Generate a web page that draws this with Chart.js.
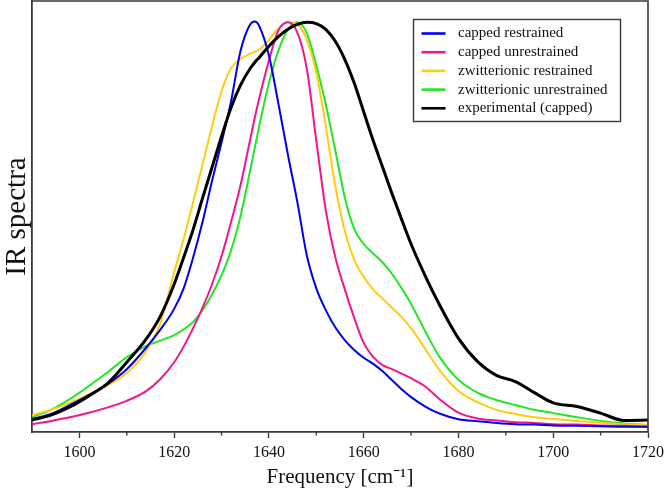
<!DOCTYPE html>
<html>
<head>
<meta charset="utf-8">
<script src="https://cdn.jsdelivr.net/npm/chart.js@4.4.1/dist/chart.umd.min.js"></script>
<style>
  html, body { margin: 0; padding: 0; background: #fff; }
  #wrap { width: 666px; height: 491px; position: relative; }
</style>
</head>
<body>
<div id="wrap"><canvas id="c" width="666" height="491"></canvas></div>
<script>
// ---- data ----
const freq = [1590,1594,1598,1602,1606,1610,1614,1617,1620,1622,1624,1626,1628,1630,1632,1634,1636,1637,1638,1640,1642,1644,1646,1648,1650,1652,1654,1656,1658,1660,1662,1664,1666,1668,1670,1673,1676,1680,1684,1688,1692,1696,1700,1705,1710,1715,1720];

const cappedRestrained = [0.032,0.044,0.066,0.090,0.117,0.153,0.204,0.248,0.300,0.350,0.425,0.512,0.612,0.705,0.805,0.928,0.992,1.000,0.988,0.917,0.800,0.676,0.560,0.430,0.350,0.297,0.255,0.224,0.200,0.181,0.166,0.148,0.126,0.104,0.085,0.062,0.045,0.031,0.026,0.022,0.019,0.018,0.016,0.015,0.014,0.013,0.013];

const cappedUnrestrained = [0.019,0.027,0.036,0.047,0.060,0.076,0.099,0.128,0.170,0.208,0.253,0.303,0.360,0.428,0.511,0.601,0.710,0.765,0.815,0.905,0.978,0.998,0.973,0.885,0.710,0.540,0.426,0.348,0.278,0.217,0.183,0.163,0.153,0.142,0.131,0.111,0.080,0.047,0.033,0.028,0.024,0.022,0.019,0.018,0.016,0.015,0.013];

const zwitterRestrained = [0.041,0.054,0.071,0.092,0.114,0.144,0.195,0.262,0.389,0.470,0.560,0.652,0.745,0.830,0.886,0.909,0.921,0.926,0.932,0.955,0.983,0.998,0.993,0.955,0.875,0.745,0.600,0.490,0.420,0.378,0.347,0.325,0.302,0.280,0.253,0.202,0.151,0.100,0.073,0.054,0.044,0.036,0.032,0.027,0.023,0.019,0.017];

const zwitterUnrestrained = [0.036,0.054,0.080,0.112,0.146,0.182,0.209,0.222,0.236,0.250,0.268,0.297,0.335,0.382,0.442,0.525,0.635,0.692,0.748,0.850,0.929,0.981,0.998,0.971,0.893,0.798,0.687,0.572,0.495,0.458,0.435,0.413,0.385,0.350,0.312,0.245,0.183,0.127,0.096,0.078,0.066,0.054,0.046,0.036,0.027,0.021,0.017];

const experimental = [0.029,0.041,0.061,0.088,0.119,0.170,0.225,0.280,0.360,0.425,0.493,0.570,0.645,0.720,0.790,0.845,0.885,0.900,0.913,0.940,0.963,0.981,0.993,0.998,0.995,0.981,0.952,0.908,0.850,0.780,0.710,0.645,0.580,0.518,0.458,0.380,0.310,0.228,0.172,0.138,0.123,0.096,0.071,0.062,0.046,0.028,0.029];

const seriesLabels = ['capped restrained','capped unrestrained','zwitterionic restrained','zwitterionic unrestrained','experimental (capped)'];
const majorTicks = [1600,1620,1640,1660,1680,1700,1720];
const minorTicks = [1610,1630,1650,1670,1690,1710];

// ---- build ----
const seriesValues = [cappedRestrained, cappedUnrestrained, zwitterRestrained, zwitterUnrestrained, experimental];
const colors = ['#0000f0','#f0168c','#ffcc10','#22e622','#000000'];
const widths = [2, 2, 2, 2, 3];
const FONT = "'Liberation Serif', 'Times New Roman', serif";
const AXIS = '#3a3a3a';

const datasets = seriesValues.map((vals, i) => ({
  label: seriesLabels[i],
  data: vals.map((v, k) => ({x: freq[k], y: v})),
  borderColor: colors[i],
  backgroundColor: colors[i],
  borderWidth: widths[i],
  pointRadius: 0,
  cubicInterpolationMode: 'monotone',
  fill: false,
  order: i === 4 ? 0 : 1
}));

const framePlugin = {
  id: 'frame',
  afterDraw(chart) {
    const {ctx, chartArea: a, scales} = chart;
    ctx.save();
    ctx.strokeStyle = AXIS;
    ctx.lineWidth = 1.6;
    ctx.beginPath();
    ctx.moveTo(a.left, a.top);
    ctx.lineTo(a.right, a.top);
    ctx.lineTo(a.right, a.bottom);
    ctx.stroke();
    ctx.lineWidth = 1.4;
    ctx.beginPath();
    minorTicks.forEach(v => {
      const x = scales.x.getPixelForValue(v);
      ctx.moveTo(x, a.bottom);
      ctx.lineTo(x, a.bottom + 3.5);
    });
    ctx.stroke();
    const bx = 413.5, by = 19.5, bw = 207, bh = 102;
    ctx.fillStyle = '#fff';
    ctx.fillRect(bx, by, bw, bh);
    ctx.strokeStyle = AXIS;
    ctx.lineWidth = 1.4;
    ctx.strokeRect(bx, by, bw, bh);
    ctx.font = '15px ' + FONT;
    ctx.textBaseline = 'middle';
    ctx.textAlign = 'left';
    chart.data.datasets.forEach((ds, i) => {
      const y = 33.5 + i * 18.7;
      ctx.strokeStyle = ds.borderColor;
      ctx.lineWidth = 2.6;
      ctx.beginPath();
      ctx.moveTo(421.5, y);
      ctx.lineTo(445.5, y);
      ctx.stroke();
      ctx.fillStyle = '#111';
      ctx.fillText(ds.label, 458, y);
    });
    ctx.restore();
  }
};

new Chart(document.getElementById('c'), {
  type: 'line',
  data: { datasets },
  options: {
    responsive: false,
    animation: false,
    events: [],
    layout: { padding: { top: 1, right: 18, bottom: 0, left: 0 } },
    plugins: { legend: { display: false }, tooltip: { enabled: false } },
    scales: {
      x: {
        type: 'linear',
        min: 1590,
        max: 1720,
        afterBuildTicks: s => { s.ticks = majorTicks.map(v => ({value: v})); },
        afterFit: s => { s.height = 59; s.paddingLeft = 0; s.paddingRight = 0; },
        ticks: { color: '#111', font: { family: FONT, size: 16 }, padding: 5, maxRotation: 0, autoSkip: false, callback: v => String(v) },
        grid: { display: true, drawOnChartArea: false, drawTicks: true, tickLength: 6, tickColor: AXIS, tickWidth: 1.4 },
        border: { display: true, color: AXIS, width: 1.8 },
        title: { display: true, text: 'Frequency [cm⁻¹]', color: '#111', font: { family: FONT, size: 21, lineHeight: 1.1 }, padding: { top: 0, bottom: 2 } }
      },
      y: {
        min: 0,
        max: 1.05,
        afterFit: s => { s.width = 32; s.paddingTop = 0; s.paddingBottom = 0; },
        ticks: { display: false },
        grid: { display: false },
        border: { display: true, color: AXIS, width: 1.8 },
        title: { display: true, text: 'IR spectra', color: '#111', font: { family: FONT, size: 29, lineHeight: 1.1 }, padding: { top: 1, bottom: 0 } }
      }
    }
  },
  plugins: [framePlugin]
});
</script>
</body>
</html>
